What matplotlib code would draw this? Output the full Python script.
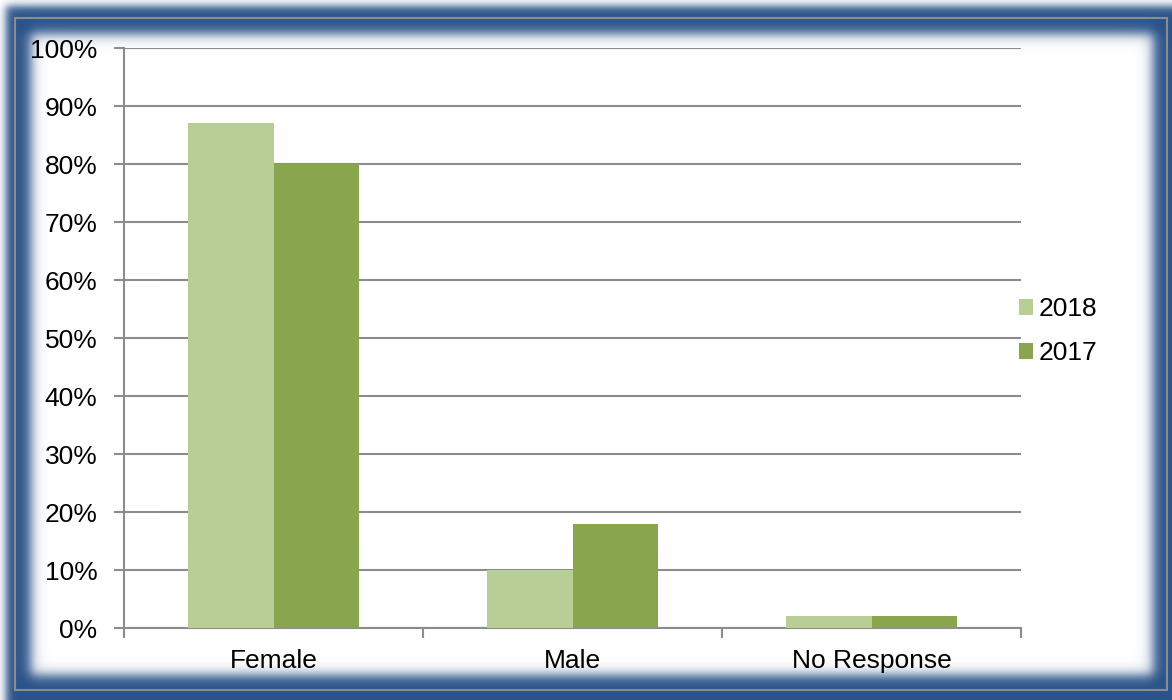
import numpy as np
import matplotlib.pyplot as plt
from matplotlib.patches import Rectangle

# Datos del gráfico
categories = ['Female', 'Male', 'No Response']
series_names = ['2018', '2017']
values_2018 = [87, 10, 2]
values_2017 = [80, 18, 2]
y_ticks = [0, 10, 20, 30, 40, 50, 60, 70, 80, 90, 100]

colors = ['#B9CD96', '#89A54E']
grid_gray = '#8C8C8C'

plt.rcParams['font.family'] = ['Liberation Sans', 'DejaVu Sans']

W, H = 1172, 700
fig = plt.figure(figsize=(W / 100, H / 100), dpi=100)

# Marco azul con brillo blanco interior (decorativo)
bg = fig.add_axes([0, 0, 1, 1], zorder=-10)
xx, yy = np.meshgrid(np.arange(W) + 0.5, np.arange(H) + 0.5)

def smooth(d, w):
    return 1 / (1 + np.exp(-d / w))

outer = smooth(xx - 6, 2.5) * smooth(yy - 6, 2.5)
inner = (smooth(xx - 31, 3.5) * smooth(1153 - xx, 3.5)
         * smooth(yy - 34, 3.5) * smooth(675 - yy, 3.5))
blue = np.array([43, 83, 137]) / 255
white = np.ones(3)
blue_amt = outer * (1 - inner)
img = white[None, None, :] * (1 - blue_amt[..., None]) + blue[None, None, :] * blue_amt[..., None]
bg.imshow(img, extent=[0, W, H, 0], aspect='auto', interpolation='bilinear')
bg.add_patch(Rectangle((15, 18), 1152, 672, fill=False, edgecolor='#8C8C8C', lw=1.5))
bg.set_xlim(0, W)
bg.set_ylim(H, 0)
bg.axis('off')

# Eje principal
ax = fig.add_axes([124 / W, 1 - 628 / H, (1021 - 124) / W, (628 - 48) / H])
ax.set_facecolor('none')

x = np.arange(len(categories))
bw = 0.285
ax.bar(x - bw / 2, values_2018, bw, color=colors[0], label=series_names[0], zorder=3)
ax.bar(x + bw / 2, values_2017, bw, color=colors[1], label=series_names[1], zorder=3)

ax.set_xlim(-0.5, len(categories) - 0.5)
ax.set_ylim(0, 100)
ax.set_yticks(y_ticks)
ax.set_yticklabels([f'{v}%' for v in y_ticks], fontsize=19)
ax.yaxis.grid(True, color=grid_gray, lw=1.5, zorder=0)
ax.set_axisbelow(True)

ax.set_xticks(np.arange(-0.5, len(categories), 1.0))
ax.set_xticklabels([])
ax.set_xticks(x, minor=True)
ax.set_xticklabels(categories, minor=True, fontsize=19)
ax.tick_params(axis='x', which='minor', length=0, pad=15)
ax.tick_params(axis='x', which='major', length=7, width=1.5, color=grid_gray, direction='out')
ax.tick_params(axis='y', length=7, width=1.5, color=grid_gray, direction='out', pad=12)

for s in ['top', 'right']:
    ax.spines[s].set_visible(False)
for s in ['left', 'bottom']:
    ax.spines[s].set_color(grid_gray)
    ax.spines[s].set_linewidth(1.5)

fig.legend(loc='center left', bbox_to_anchor=(1008 / W, 1 - 331 / H), frameon=False,
           fontsize=19, handlelength=0.55, handleheight=0.55, handletextpad=0.2,
           labelspacing=0.75, borderaxespad=0)

fig.savefig('out.png', dpi=100)
